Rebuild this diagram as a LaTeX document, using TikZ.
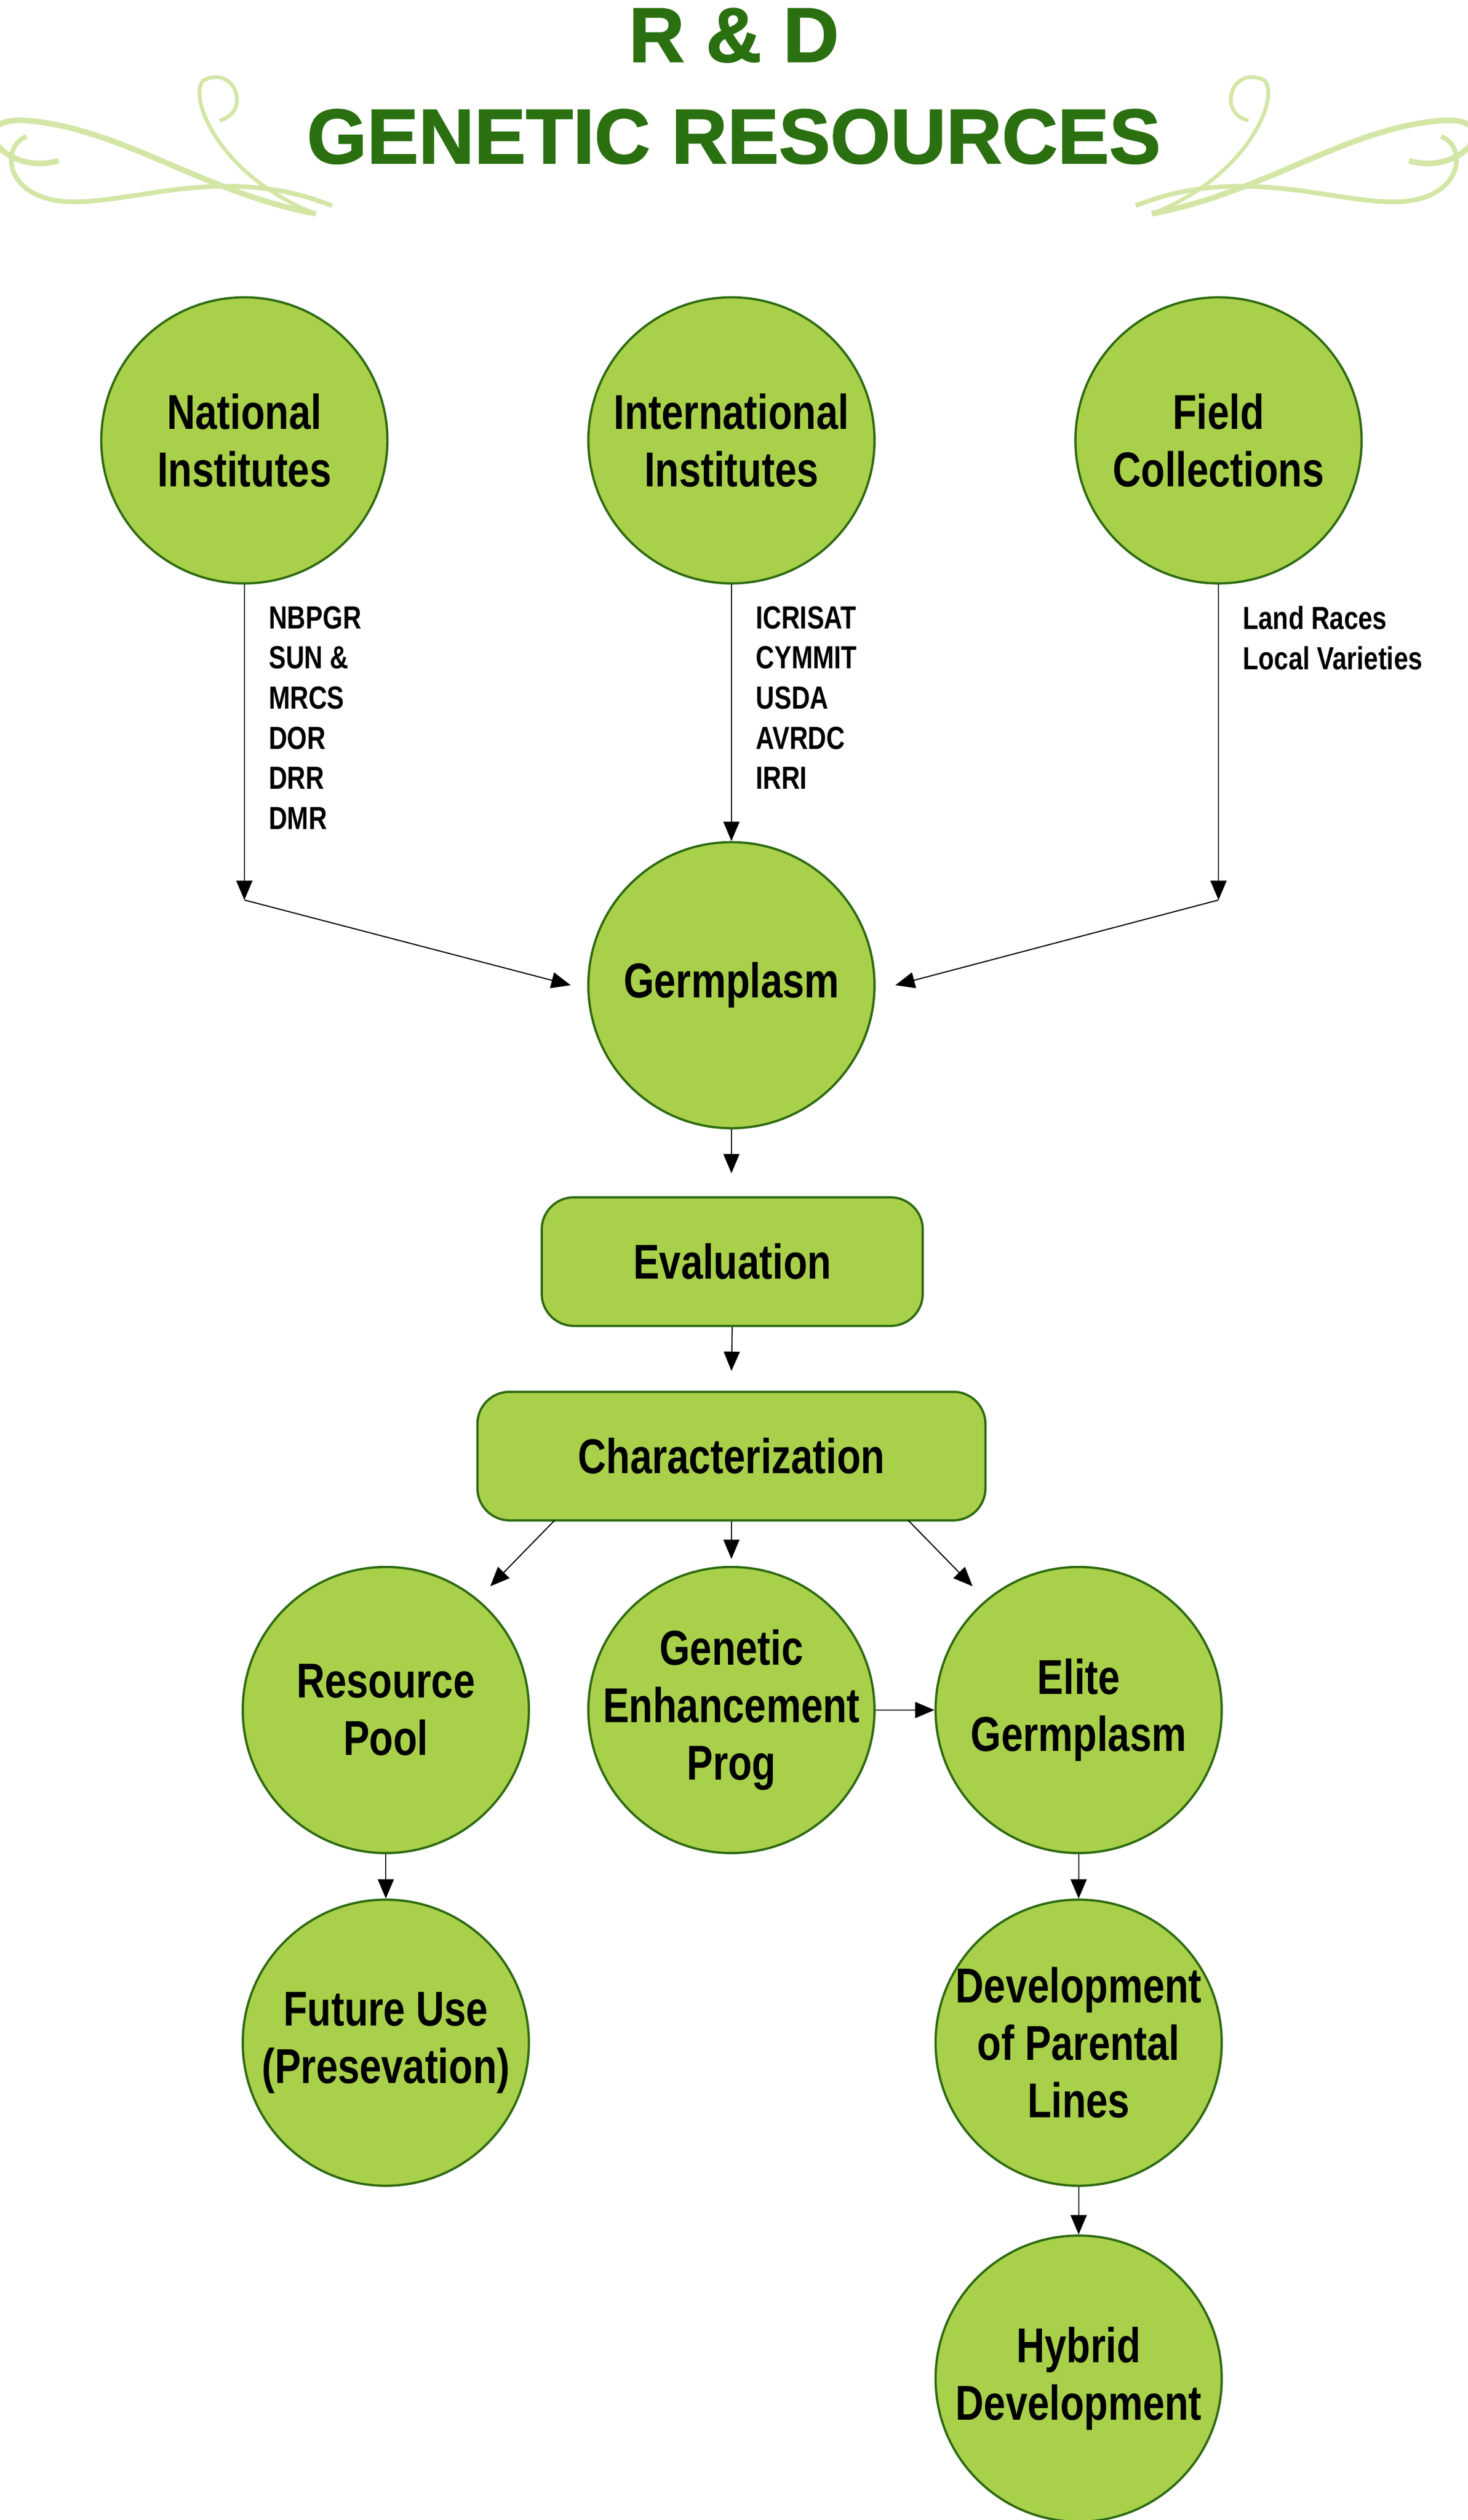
\documentclass[tikz,border=0pt]{standalone}
\usepackage{fontspec}
\setmainfont{Liberation Sans}[FakeStretch=0.8]
\newfontfamily\titlefont{Liberation Sans}[FakeBold=1.5]
\usetikzlibrary{arrows.meta}
\definecolor{fillg}{HTML}{A9D04A}
\definecolor{edgeg}{HTML}{2E6B12}
\definecolor{titleg}{HTML}{2A7010}
\definecolor{swirl}{HTML}{D3E6A6}
\begin{document}
\begin{tikzpicture}[x=0.03cm,y=-0.03cm,
  circ/.style={circle,draw=edgeg,fill=fillg,line width=1.2pt,minimum size=178*0.03cm,inner sep=-1cm,align=center,font=\fontsize{26}{30.5}\selectfont\bfseries},
  box/.style={rounded corners=0.6cm,draw=edgeg,fill=fillg,line width=1.2pt,inner sep=0pt,align=center,font=\fontsize{26}{30.5}\selectfont\bfseries},
  arr/.style={-{Triangle[length=0.36cm,width=0.3cm]},line width=0.6pt},
  ttl/.style={font=\titlefont\fontsize{41}{44}\selectfont\bfseries,text=titleg},
  lab/.style={anchor=north west,align=left,inner sep=0pt,font=\fontsize{17}{21.3}\selectfont\bfseries}]
\useasboundingbox (0,0) rectangle (913,1568);
% swirls
\foreach \s in {1,-1}{
\begin{scope}[shift={(456.5,0)},xscale=\s]
 \draw[swirl,line width=3pt] (-260,133) .. controls (-330,120) and (-380,80) .. (-440,75) .. controls (-480,72) and (-455,110) .. (-420,100);
 \draw[swirl,line width=2pt] (-260,133) .. controls (-320,110) and (-340,60) .. (-330,50) .. controls (-310,40) and (-300,70) .. (-320,75);
 \draw[swirl,line width=2.5pt] (-250,128) .. controls (-320,100) and (-380,130) .. (-420,125) .. controls (-455,120) and (-455,90) .. (-440,85);
\end{scope}}
\node[ttl] (t1) at (456.5,22) {R \& D};
\node[ttl] (t2) at (456.5,85) {GENETIC RESOURCES};
\node[circ] (nat) at (152,274) {National\\Institutes};
\node[circ] (int) at (455,274) {International\\Institutes};
\node[circ] (fld) at (758,274) {Field\\Collections};
\node[circ] (ger) at (455,613) {Germplasm};
\node[box,minimum width=237*0.03cm,minimum height=80*0.03cm] (eva) at (455.5,785) {Evaluation};
\node[box,minimum width=316*0.03cm,minimum height=80*0.03cm] (cha) at (455,906) {Characterization};
\node[circ] (res) at (240,1064) {Resource\\Pool};
\node[circ] (gen) at (455,1064) {Genetic\\Enhancement\\Prog};
\node[circ] (eli) at (671,1064) {Elite\\Germplasm};
\node[circ] (fut) at (240,1271) {Future Use\\(Presevation)};
\node[circ] (dev) at (671,1271) {Development\\of Parental\\Lines};
\node[circ] (hyb) at (671,1480) {Hybrid\\Development};
\node[lab] (l1) at (167,377) {NBPGR\\SUN \&\\MRCS\\DOR\\DRR\\DMR};
\node[lab] (l2) at (470,377) {ICRISAT\\CYMMIT\\USDA\\AVRDC\\IRRI};
\node[lab] (l3) at (773,377) {Land Races\\Local Varieties};
\coordinate (cn) at (152,560);
\coordinate (cf) at (758,560);
\draw[arr] (nat) -- (cn);
\draw[arr] (cn) -- (355,613);
\draw[arr] (fld) -- (cf);
\draw[arr] (cf) -- (557,613);
\draw[arr] (int) -- (ger);
\draw[arr] (ger.south) -- (455,730);
\draw[arr] (eva.south) -- (455,853);
\draw[arr] (cha.south) -- (455,970);
\draw[arr] (345,946) -- (305,987);
\draw[arr] (565,946) -- (605,987);
\draw[arr] (gen.east) -- (eli.west);
\draw[arr] (res.south) -- (fut.north);
\draw[arr] (eli.south) -- (dev.north);
\draw[arr] (dev.south) -- (hyb.north);
\end{tikzpicture}
\end{document}
